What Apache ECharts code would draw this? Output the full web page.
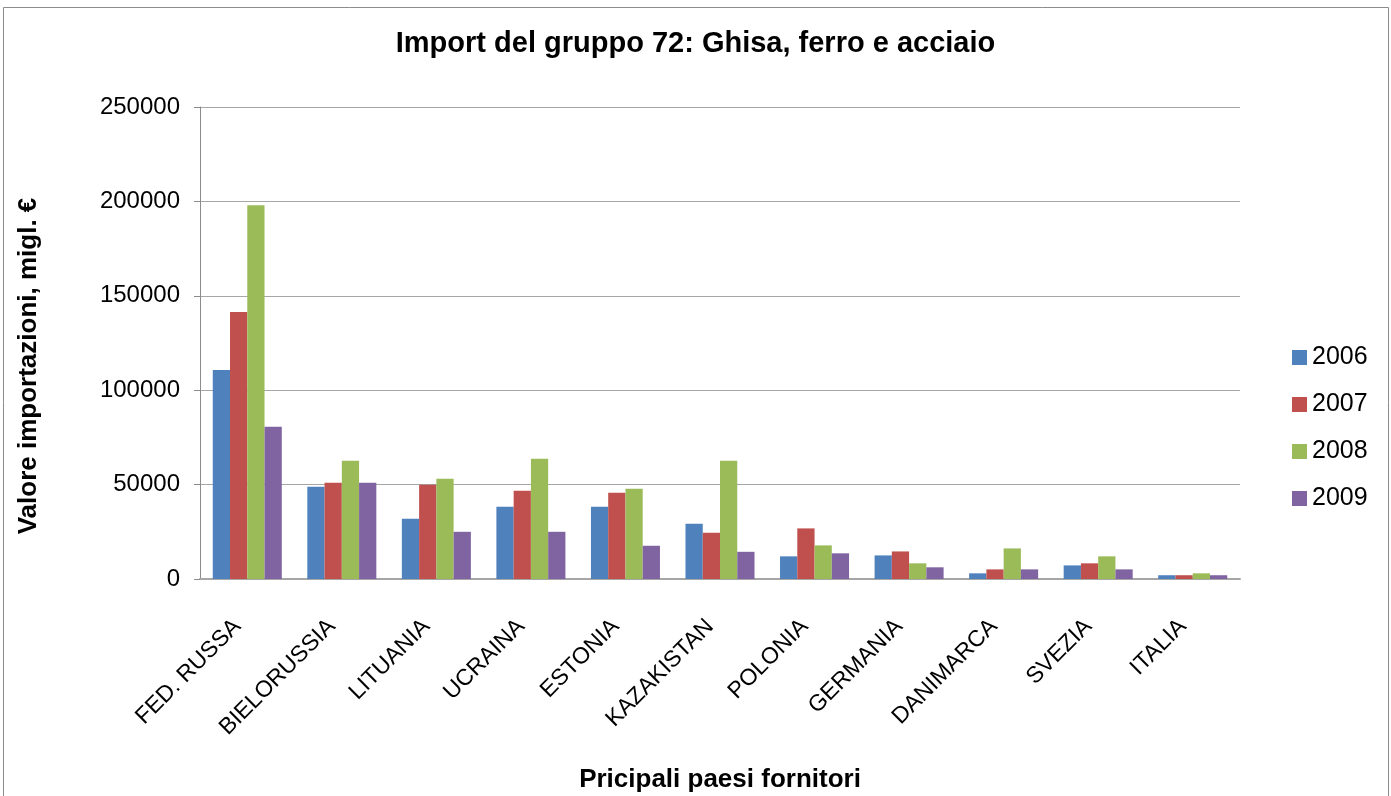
<!DOCTYPE html>
<html>
<head>
<meta charset="utf-8">
<script src="https://cdn.jsdelivr.net/npm/echarts@6/dist/echarts.min.js"></script>
<style>
  html, body { margin: 0; padding: 0; background: #fff; }
  #chart { width: 1391px; height: 796px; }
</style>
</head>
<body>
<div id="chart"></div>
<script>
const countries = ['FED. RUSSA', 'BIELORUSSIA', 'LITUANIA', 'UCRAINA', 'ESTONIA', 'KAZAKISTAN', 'POLONIA', 'GERMANIA', 'DANIMARCA', 'SVEZIA', 'ITALIA']
const years = ['2006', '2007', '2008', '2009']
const v2006 = [110700, 48800, 31900, 38300, 38300, 29300, 12000, 12500, 3000, 7200, 2000]
const v2007 = [141400, 51000, 49900, 46700, 45700, 24500, 26800, 14600, 5100, 8300, 2000]
const v2008 = [198000, 62600, 53100, 63700, 47800, 62600, 17800, 8300, 16200, 12000, 3000]
const v2009 = [80600, 51000, 25000, 25000, 17600, 14400, 13600, 6200, 5100, 5100, 2000]
const colors = ['#4f81bd', '#c0504d', '#9bbb59', '#8064a2']

const font = '"Liberation Sans", Arial, sans-serif'
const chart = echarts.init(document.getElementById('chart'))

chart.setOption({
  animation: false,
  color: colors,
  textStyle: { fontFamily: font, color: '#000' },
  graphic: [{
    type: 'rect',
    shape: { x: 3.5, y: 7.5, width: 1385, height: 800 },
    style: { fill: 'none', stroke: '#8c8c8c', lineWidth: 1 },
    silent: true
  }],
  title: {
    text: 'Import del gruppo 72: Ghisa, ferro e acciaio',
    left: 'center',
    top: 24,
    textStyle: { fontFamily: font, fontSize: 29, fontWeight: 'bold', color: '#000' }
  },
  legend: {
    orient: 'vertical',
    left: 1292,
    top: 345,
    padding: 0,
    itemWidth: 15,
    itemHeight: 15,
    itemGap: 22,
    icon: 'rect',
    textStyle: { fontFamily: font, fontSize: 25, color: '#000', lineHeight: 24 },
    data: years
  },
  grid: { left: 200, right: 151, top: 107, bottom: 217, containLabel: false, outerBoundsMode: 'none' },
  xAxis: {
    type: 'category',
    data: countries,
    name: 'Pricipali paesi fornitori',
    nameLocation: 'middle',
    nameGap: 188,
    nameTextStyle: { fontFamily: font, fontSize: 26, fontWeight: 'bold', color: '#000' },
    axisLine: { lineStyle: { color: '#a6a6a6', width: 2 } },
    axisTick: { show: false },
    axisLabel: { rotate: 45, fontFamily: font, fontSize: 23, color: '#000', margin: 34, interval: 0, padding: [0, 14, 0, 0] }
  },
  yAxis: {
    type: 'value',
    min: 0,
    max: 250000,
    interval: 50000,
    name: 'Valore importazioni, migl. €',
    nameLocation: 'middle',
    nameGap: 158,
    nameRotate: 90,
    nameTextStyle: { fontFamily: font, fontSize: 26, fontWeight: 'bold', color: '#000', padding: [0, 46, 0, 0] },
    axisLine: { show: true, lineStyle: { color: '#8c8c8c', width: 1 } },
    axisTick: { show: true, length: 6, lineStyle: { color: '#8c8c8c' } },
    axisLabel: { fontFamily: font, fontSize: 24, color: '#000', margin: 20, formatter: v => String(v) },
    splitLine: { lineStyle: { color: '#a6a6a6', width: 1 } }
  },
  series: [
    { name: years[0], type: 'bar', data: v2006, barGap: '0%', barCategoryGap: '27%' },
    { name: years[1], type: 'bar', data: v2007, barGap: '0%', barCategoryGap: '27%' },
    { name: years[2], type: 'bar', data: v2008, barGap: '0%', barCategoryGap: '27%' },
    { name: years[3], type: 'bar', data: v2009, barGap: '0%', barCategoryGap: '27%' }
  ]
})
</script>
</body>
</html>
